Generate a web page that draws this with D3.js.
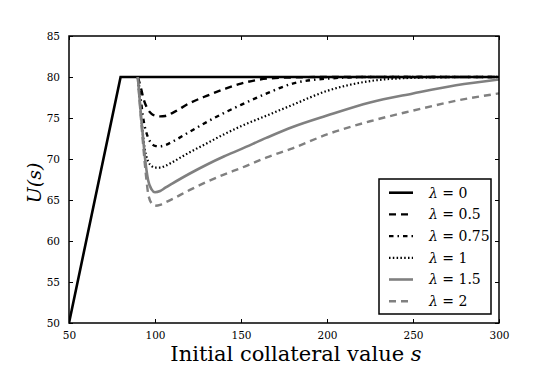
<!DOCTYPE html>
<html>
<head>
<meta charset="utf-8">
<script src="https://cdn.jsdelivr.net/npm/d3@7"></script>
<style>
  body { margin: 0; background: #fff; }
  svg text { font-family: "DejaVu Serif", serif; fill: #000; }
</style>
</head>
<body>
<div id="app"></div>
<script>
// values
const sGrid = [90, 91, 92, 93, 94, 95, 96, 98, 100, 103, 106, 110, 120, 130, 140, 150, 165, 180, 200, 225, 250, 275, 300];

const lambda0S = [50, 80, 300];
const lambda0U = [50, 80, 80];

const lambda05U = [80, 79.3, 78.5, 77.6, 76.9, 76.4, 76.0, 75.5, 75.3, 75.2, 75.25, 75.6, 76.8, 77.7, 78.5, 79.2, 79.8, 79.95, 80, 80, 80, 80, 80];
const lambda075U = [80, 78.5, 76.8, 75.2, 74.0, 73.2, 72.6, 71.9, 71.6, 71.55, 71.7, 72.1, 73.3, 74.5, 75.6, 76.6, 78.0, 79.2, 79.8, 80, 80, 80, 80];
const lambda1U = [80, 77.5, 75.0, 73.0, 71.3, 70.3, 69.7, 69.15, 68.95, 68.95, 69.15, 69.6, 70.8, 71.9, 73.0, 74.0, 75.3, 76.6, 78.3, 79.5, 79.9, 80, 80];
const lambda15U = [80, 77.5, 75.0, 72.7, 70.5, 68.7, 67.4, 66.3, 65.95, 66.1, 66.5, 67.0, 68.2, 69.3, 70.3, 71.2, 72.6, 73.9, 75.3, 76.9, 78.0, 79.0, 79.7];
const lambda2U = [80, 77.2, 74.5, 72.0, 69.6, 67.5, 65.8, 64.6, 64.3, 64.4, 64.7, 65.1, 66.2, 67.2, 68.1, 68.9, 70.2, 71.3, 73.0, 74.6, 75.9, 77.1, 78.0];

const legendLabels = ['0', '0.5', '0.75', '1', '1.5', '2'];
const xTicks = [50, 100, 150, 200, 250, 300];
const yTicks = [50, 55, 60, 65, 70, 75, 80, 85];

function render() {
  const width = 554;
  const height = 369;
  const margin = { left: 69, right: 55, top: 36, bottom: 46 };
  const innerWidth = width - margin.left - margin.right;
  const innerHeight = height - margin.top - margin.bottom;

  const svg = d3.select('#app')
                .append('svg')
                .attr('width', width)
                .attr('height', height);

  const xScale = d3.scaleLinear().domain([50, 300]).range([0, innerWidth]);
  const yScale = d3.scaleLinear().domain([50, 85]).range([innerHeight, 0]);

  const g = svg.append('g')
               .attr('transform', `translate(${margin.left}, ${margin.top})`);

  svg.append('clipPath')
     .attr('id', 'plotClip')
     .append('rect')
     .attr('width', innerWidth)
     .attr('height', innerHeight);

  // series: black first, gray on top (same order as legend)
  const series = [
    { s: lambda0S, u: lambda0U, color: '#000', width: 2.6, dash: null },
    { s: sGrid, u: lambda05U, color: '#000', width: 2.4, dash: '7,5' },
    { s: sGrid, u: lambda075U, color: '#000', width: 2.4, dash: '4.5,4,1.5,4' },
    { s: sGrid, u: lambda1U, color: '#000', width: 2.2, dash: '1.5,2.3' },
    { s: sGrid, u: lambda15U, color: '#808080', width: 2.6, dash: null },
    { s: sGrid, u: lambda2U, color: '#808080', width: 2.4, dash: '7,5' }
  ];

  const smooth = d3.line()
                   .x(d => xScale(d[0]))
                   .y(d => yScale(d[1]))
                   .curve(d3.curveMonotoneX);
  const straight = d3.line()
                     .x(d => xScale(d[0]))
                     .y(d => yScale(d[1]));

  const lines = g.append('g').attr('clip-path', 'url(#plotClip)');
  series.forEach(sr => {
    const pts = sr.s.map((s, i) => [s, sr.u[i]]);
    lines.append('path')
         .datum(pts)
         .attr('fill', 'none')
         .attr('stroke', sr.color)
         .attr('stroke-width', sr.width)
         .attr('stroke-dasharray', sr.dash)
         .attr('d', sr.s === lambda0S ? straight(pts) : smooth(pts));
  });

  // axes with inward ticks on all four sides
  const tickLen = 4;
  const bottomAxis = g.append('g')
                      .attr('transform', `translate(0, ${innerHeight})`)
                      .call(d3.axisBottom(xScale).tickValues(xTicks).tickSize(-tickLen).tickPadding(9).tickFormat(d3.format('d')));
  const topAxis = g.append('g')
                   .call(d3.axisTop(xScale).tickValues(xTicks).tickSize(-tickLen).tickFormat(''));
  const leftAxis = g.append('g')
                    .call(d3.axisLeft(yScale).tickValues(yTicks).tickSize(-tickLen).tickPadding(9).tickFormat(d3.format('d')));
  const rightAxis = g.append('g')
                     .attr('transform', `translate(${innerWidth}, 0)`)
                     .call(d3.axisRight(yScale).tickValues(yTicks).tickSize(-tickLen).tickFormat(''));

  [bottomAxis, topAxis, leftAxis, rightAxis].forEach(a => {
    a.select('.domain').remove();
    a.attr('font-family', null);
    a.selectAll('line').attr('stroke', '#000').attr('stroke-width', 1);
    a.selectAll('text')
     .attr('font-size', '10.5px')
     .attr('fill', '#000');
  });

  g.append('rect')
   .attr('width', innerWidth)
   .attr('height', innerHeight)
   .attr('fill', 'none')
   .attr('stroke', '#000')
   .attr('stroke-width', 1.5);

  // axis labels
  const xLabel = svg.append('text')
                    .attr('x', margin.left + innerWidth / 2 + 12)
                    .attr('y', 361)
                    .attr('text-anchor', 'middle')
                    .attr('font-size', '21px');
  xLabel.append('tspan').text('Initial collateral value ');
  xLabel.append('tspan').attr('font-style', 'italic').text('s');

  svg.append('text')
     .attr('transform', 'translate(41, 183) rotate(-90)')
     .attr('text-anchor', 'middle')
     .attr('font-size', '19px')
     .attr('font-style', 'italic')
     .text('U(s)');

  // legend
  const legend = svg.append('g').attr('transform', 'translate(379, 179)');
  legend.append('rect')
        .attr('width', 112)
        .attr('height', 135)
        .attr('fill', '#fff')
        .attr('stroke', '#000')
        .attr('stroke-width', 1.5);

  series.forEach((sr, i) => {
    const y = 13.7 + i * 21.7;
    legend.append('line')
          .attr('x1', 10)
          .attr('x2', 34)
          .attr('y1', y)
          .attr('y2', y)
          .attr('stroke', sr.color)
          .attr('stroke-width', sr.width)
          .attr('stroke-dasharray', sr.dash);
    const t = legend.append('text')
                    .attr('x', 50)
                    .attr('y', y)
                    .attr('dy', '0.35em')
                    .attr('font-size', '14px');
    t.append('tspan').attr('font-style', 'italic').text('λ');
    t.append('tspan').text(' = ' + legendLabels[i]);
  });
}

render();
</script>
</body>
</html>
